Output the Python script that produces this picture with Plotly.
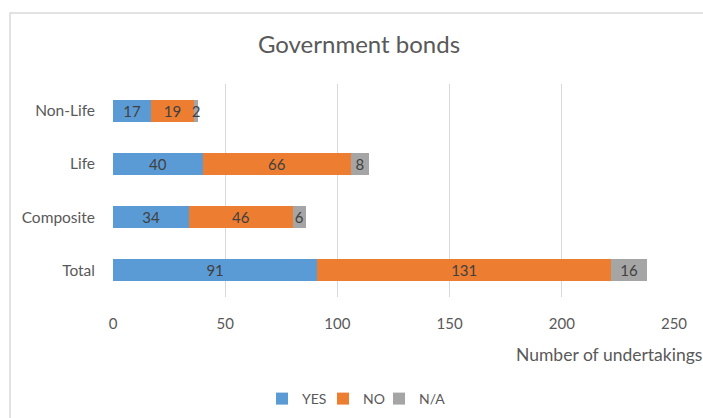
import plotly.graph_objects as go

# Government bonds: number of undertakings by type and answer
categories = ["Non-Life", "Life", "Composite", "Total"]
yes_vals = [17, 40, 34, 91]
no_vals = [19, 66, 46, 131]
na_vals = [2, 8, 6, 16]

series = [
    ("YES", yes_vals, "#5B9BD5"),
    ("NO", no_vals, "#ED7D31"),
    ("N/A", na_vals, "#A5A5A5"),
]

FONT = "Lato"
GREY = "#595959"

W, H = 703, 418
L, R, T, B = 113, 29, 84, 121
pw, ph = W - L - R, H - T - B


def px_x(x):
    return (x - L) / pw


def px_y(y):
    return (H - B - y) / ph


# each series gets its own legend so the entries can sit close together
legend_ids = ["legend", "legend2", "legend3"]
legend_left = [262, 323, 379]

fig = go.Figure()
for (name, vals, color), lid in zip(series, legend_ids):
    fig.add_trace(go.Bar(
        y=categories,
        x=vals,
        name=name,
        orientation="h",
        marker=dict(color=color, line=dict(width=0)),
        text=[str(v) for v in vals],
        textposition="inside",
        insidetextanchor="middle",
        textangle=0,
        textfont=dict(family=FONT, size=15, color="#404040"),
        cliponaxis=False,
        legend=lid,
    ))

legend_style = dict(
    orientation="h",
    xanchor="left",
    y=px_y(399), yanchor="middle",
    font=dict(family=FONT, size=14, color=GREY),
    itemwidth=30,
    bgcolor="rgba(0,0,0,0)",
)

fig.update_layout(
    width=W,
    height=H,
    margin=dict(l=L, r=R, t=T, b=B, autoexpand=False),
    barmode="stack",
    bargap=0.59,
    paper_bgcolor="white",
    plot_bgcolor="white",
    uniformtext=dict(minsize=15, mode="show"),
    title=dict(
        text="Government bonds",
        x=px_x(359), xref="paper", xanchor="center",
        y=1 - 45 / H, yanchor="middle",
        font=dict(family=FONT, size=24, color=GREY),
    ),
    font=dict(family=FONT, color=GREY),
    showlegend=True,
)
for lid, left in zip(legend_ids, legend_left):
    fig.update_layout({lid: dict(legend_style, x=px_x(left))})

fig.update_xaxes(
    range=[0, 250],
    tickvals=[0, 50, 100, 150, 200, 250],
    showgrid=True,
    gridcolor="#D9D9D9",
    gridwidth=1,
    zeroline=False,
    showline=False,
    ticks="",
    automargin=False,
    ticklabelstandoff=16,
    tickfont=dict(family=FONT, size=15, color=GREY),
)

fig.update_yaxes(
    categoryorder="array",
    categoryarray=list(reversed(categories)),
    showgrid=False,
    zeroline=False,
    showline=False,
    ticks="",
    automargin=False,
    ticklabelstandoff=17,
    tickfont=dict(family=FONT, size=15.5, color=GREY),
)

# Axis title placed at the lower right, below the tick labels
fig.add_annotation(
    text="Number of undertakings",
    xref="paper", yref="paper",
    x=px_x(704), y=px_y(354),
    xanchor="right", yanchor="middle",
    showarrow=False,
    font=dict(family=FONT, size=17.5, color=GREY),
)

# Thin frame around the chart area
fig.add_shape(
    type="rect",
    xref="paper", yref="paper",
    x0=px_x(10), x1=px_x(715),
    y0=px_y(440), y1=px_y(13),
    line=dict(color="#D9D9D9", width=1.5),
    fillcolor="rgba(0,0,0,0)",
    layer="below",
)

fig.write_html("out.html")
